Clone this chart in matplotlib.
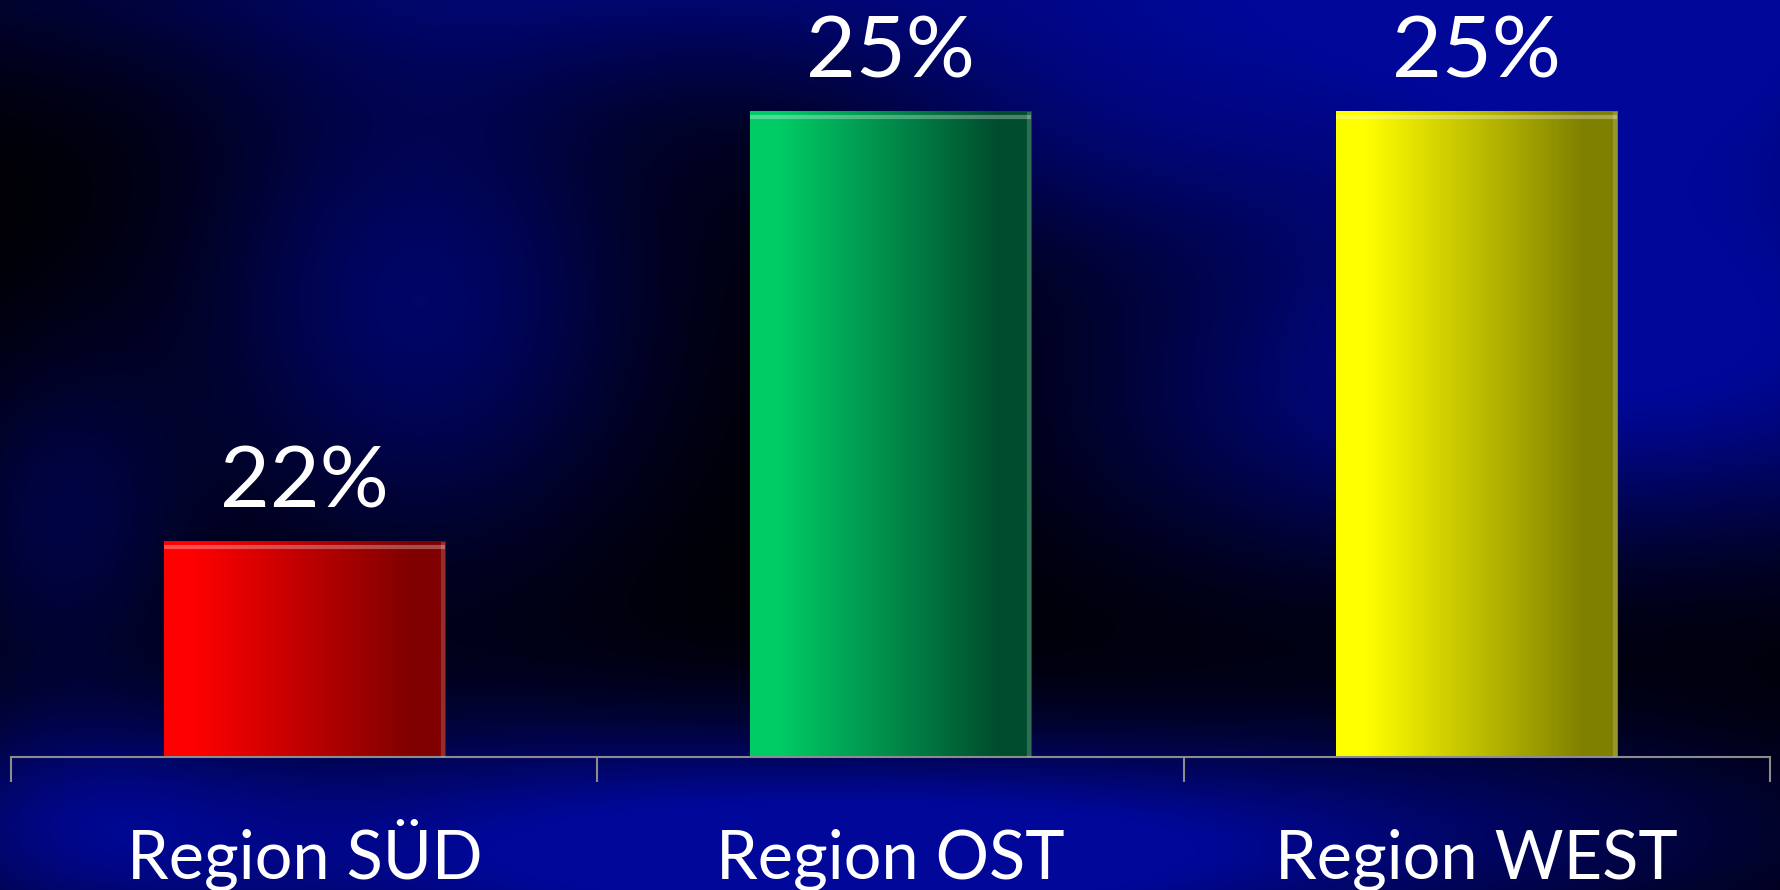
import numpy as np
import matplotlib
matplotlib.use("Agg")
import matplotlib.pyplot as plt
from matplotlib.colors import LinearSegmentedColormap

# data
regions = ["Region SÜD", "Region OST", "Region WEST"]
shares = [22, 25, 25]
labels = ["22%", "25%", "25%"]
bright = ["#ff0000", "#00cc66", "#ffff00"]
dark = ["#800000", "#004d2e", "#808000"]

W, H, DPI = 1781, 890, 100
fig = plt.figure(figsize=(W / DPI, H / DPI), dpi=DPI)

# background: dark navy with blue clouds
bg = fig.add_axes([0, 0, 1, 1])
bg.set_axis_off()
yy, xx = np.mgrid[0:H, 0:W]
blobs = [
    # x, y, sx, sy, strength
    (900, -40, 700, 90, 0.45),
    (1650, 80, 260, 200, 0.55),
    (1700, 380, 300, 120, 0.40),
    (420, 300, 160, 180, 0.40),
    (560, 850, 380, 90, 0.55),
    (1000, 860, 260, 70, 0.35),
    (1450, 830, 300, 80, 0.30),
    (80, 820, 140, 80, 0.30),
    (60, 520, 90, 120, 0.25),
    (1300, 420, 200, 120, 0.20),
    (1120, 130, 200, 90, 0.30),
]
b = np.zeros((H, W))
for bx, by, sx, sy, s in blobs:
    b += s * np.exp(-((xx - bx) ** 2 / (2 * sx ** 2) + (yy - by) ** 2 / (2 * sy ** 2)))
b = np.clip(b, 0, 0.6)
img = np.dstack([np.zeros_like(b), b * 0.05, b])
bg.imshow(img, extent=[0, W, H, 0], aspect="auto", interpolation="bilinear")
bg.set_xlim(0, W)
bg.set_ylim(H, 0)

# chart axes
ax = fig.add_axes([11.4 / W, (H - 757) / H, (1769.7 - 11.4) / W, 757 / H])
ax.patch.set_alpha(0)
base, top = 20.5, 25.78
x = np.arange(len(regions))
bars = ax.bar(x, shares, width=0.48, bottom=0, color="none", zorder=2)
ax.set_xlim(-0.5, len(regions) - 0.5)
ax.set_ylim(base, top)

grad = np.linspace(0, 1, 256).reshape(1, -1)
grad = np.clip((grad - 0.1) / 0.78, 0, 1)
for i, p in enumerate(bars):
    x0, w = p.get_x(), p.get_width()
    cmap = LinearSegmentedColormap.from_list("g", [bright[i], dark[i]])
    ax.imshow(grad, cmap=cmap, vmin=0, vmax=1, extent=[x0, x0 + w, base, shares[i]],
              aspect="auto", zorder=2, interpolation="bilinear")
    # bevel highlights
    ax.plot([x0, x0 + w], [shares[i] - 0.035, shares[i] - 0.035], color="white",
            alpha=0.3, lw=3, zorder=3, solid_capstyle="butt")
    ax.plot([x0 + w - 0.004, x0 + w - 0.004], [base, shares[i]], color="white",
            alpha=0.18, lw=3, zorder=3, solid_capstyle="butt")
    ax.annotate(labels[i], (x[i], shares[i]), xytext=(0, 25), textcoords="offset points",
                ha="center", va="baseline", color="white", fontsize=62, family="Lato")
    ax.text(x[i], -0.16, regions[i], transform=ax.get_xaxis_transform(),
            ha="center", va="baseline", color="white", fontsize=48, family="Lato")

for s in ["top", "left", "right"]:
    ax.spines[s].set_visible(False)
ax.spines["bottom"].set_color("#8c8c8c")
ax.spines["bottom"].set_linewidth(1.5)
ax.set_yticks([])
ax.set_xticks(np.arange(-0.5, len(regions), 1.0))
ax.set_xticklabels([])
ax.tick_params(axis="x", length=18, width=1.5, color="#8c8c8c")

fig.savefig("out.png", dpi=DPI)
